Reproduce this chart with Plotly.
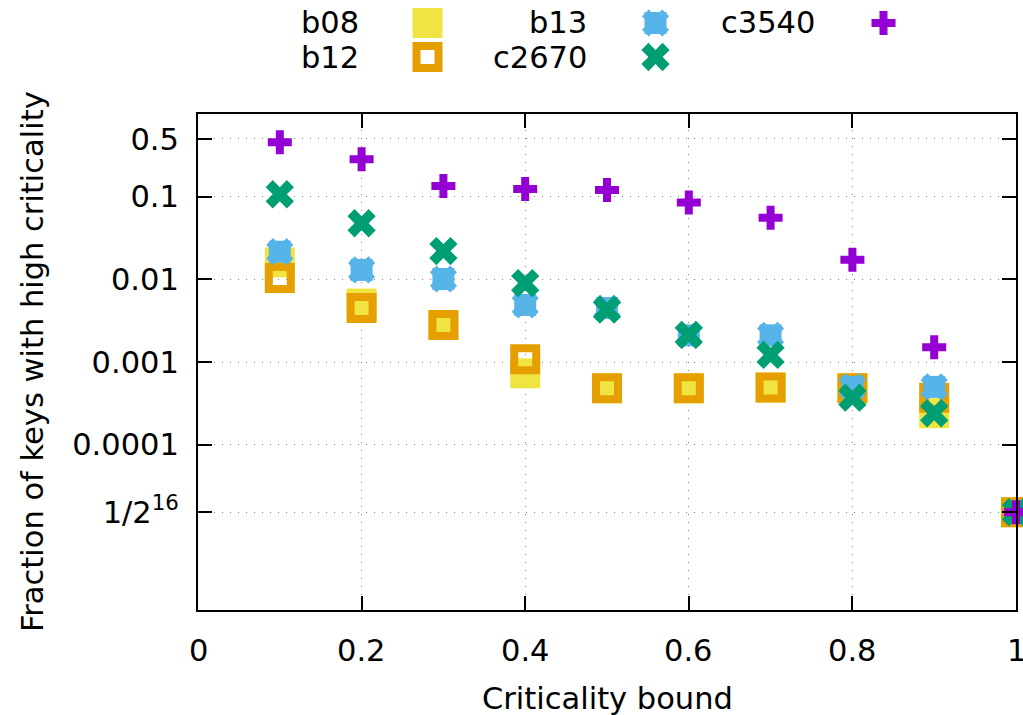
import plotly.graph_objects as go

# ---------------- data ----------------
bounds = [0.1, 0.2, 0.3, 0.4, 0.5, 0.6, 0.7, 0.8, 0.9, 1.0]
b08 = [0.016, 0.0051, 0.0028, 0.00073, 0.00048, 0.00048, 0.00049, 0.00048, 0.00024, 1.52587890625e-05]
b12 = [0.0104, 0.0045, 0.0028, 0.00108, 0.00048, 0.00048, 0.00049, 0.00048, 0.00037, 1.52587890625e-05]
b13 = [0.0216, 0.013, 0.0101, 0.0049, 0.0045, 0.0021, 0.0021, 0.0005, 0.0005, 1.52587890625e-05]
c2670 = [0.107, 0.0477, 0.022, 0.009, 0.0043, 0.00213, 0.00122, 0.00037, 0.00024, 1.52587890625e-05]
c3540 = [0.455, 0.283, 0.135, 0.124, 0.12, 0.085, 0.0557, 0.0172, 0.00151, 1.52587890625e-05]

x_tickvals = [0, 0.2, 0.4, 0.6, 0.8, 1]
x_ticktext = ["0", "0.2", "0.4", "0.6", "0.8", "1"]
y_tickvals = [0.5, 0.1, 0.01, 0.001, 0.0001, 1.52587890625e-05]
y_ticktext = ["0.5", "0.1", "0.01", "0.001", "0.0001", "1/2<sup>16</sup>"]

# ---------------- layout constants ----------------
W, H = 1023, 715
L, R, T, B = 198, 1016, 114, 610
FONT = "DejaVu Sans"
FS = 30.5
XLAB_Y = 650  # vertical centre of x tick labels (px from top)

C_B08 = "#f0e442"
C_B12 = "#e69f00"
C_B13 = "#56b4e9"
C_C2670 = "#009e73"
C_C3540 = "#9400d3"

styles = {
    "b08": [dict(symbol="square", size=30, color=C_B08, line=dict(width=0))],
    "b12": [dict(symbol="square-open", size=22, color=C_B12, line=dict(width=8, color=C_B12))],
    "b13": [dict(symbol="square", size=22, color=C_B13, line=dict(width=0)),
            dict(symbol="x", size=24, color=C_B13, line=dict(width=0))],
    "c2670": [dict(symbol="x", size=25, color=C_C2670, line=dict(width=0))],
    "c3540": [dict(symbol="cross", size=20, color=C_C3540, line=dict(width=0))],
}
series = [("b08", b08), ("b12", b12), ("b13", b13), ("c2670", c2670), ("c3540", c3540)]

fig = go.Figure()
for name, vals in series:
    for m in styles[name]:
        fig.add_trace(go.Scatter(x=bounds, y=vals, mode="markers", marker=m,
                                 name=name, showlegend=False, cliponaxis=False,
                                 xaxis="x", yaxis="y"))

# ---------------- manual key (gnuplot style: text left of sample) ----------------
key_rows = [23, 57]
key_cols_text = [361, 589, 817]
key_cols_mark = [427.5, 655.5, 883.5]
key_layout = [("b08", 0, 0), ("b12", 1, 0), ("b13", 0, 1), ("c2670", 1, 1), ("c3540", 0, 2)]
annotations = []
for name, r, c in key_layout:
    for m in styles[name]:
        fig.add_trace(go.Scatter(x=[key_cols_mark[c]], y=[key_rows[r]], mode="markers",
                                 marker=m, showlegend=False, cliponaxis=False,
                                 xaxis="x2", yaxis="y2", hoverinfo="skip"))
    annotations.append(dict(x=key_cols_text[c] / W, y=1 - key_rows[r] / H, xref="paper", yref="paper",
                            text=name, showarrow=False, xanchor="right", yanchor="middle",
                            font=dict(family=FONT, size=FS, color="black")))

# x tick labels drawn as annotations so the last one may run past the figure edge
for v, t in zip(x_tickvals, x_ticktext):
    annotations.append(dict(x=v, xref="x", y=1 - XLAB_Y / H, yref="paper", text=t,
                            showarrow=False, xanchor="center", yanchor="middle",
                            font=dict(family=FONT, size=FS, color="black")))

# axis titles
annotations.append(dict(x=(L + R) / 2 / W, y=1 - 698 / H, xref="paper", yref="paper",
                        text="Criticality bound", showarrow=False, xanchor="center", yanchor="middle",
                        font=dict(family=FONT, size=FS, color="black")))
annotations.append(dict(x=32 / W, y=1 - (T + B) / 2 / H, xref="paper", yref="paper",
                        text="Fraction of keys with high criticality", textangle=-90, showarrow=False,
                        xanchor="center", yanchor="middle",
                        font=dict(family=FONT, size=FS, color="black")))

axis_common = dict(showline=True, linewidth=2, linecolor="black", mirror="allticks",
                   ticks="inside", ticklen=14, tickwidth=2, tickcolor="black",
                   showgrid=True, gridcolor="#808080", gridwidth=1, griddash="1px,7px",
                   zeroline=False,
                   tickfont=dict(family=FONT, size=FS, color="black"))

fig.update_layout(
    width=W, height=H,
    margin=dict(l=0, r=0, t=0, b=0),
    paper_bgcolor="white", plot_bgcolor="rgba(0,0,0,0)",
    showlegend=False,
    xaxis=dict(domain=[L / W, R / W], range=[0, 1], tickmode="array",
               tickvals=x_tickvals, showticklabels=False, anchor="y", **axis_common),
    yaxis=dict(domain=[1 - B / H, 1 - T / H], type="log", range=[-6, 0], tickmode="array",
               tickvals=y_tickvals, ticktext=y_ticktext, anchor="x",
               ticklabelstandoff=11, **axis_common),
    xaxis2=dict(domain=[0, 1], range=[0, W], visible=False, anchor="y2", fixedrange=True),
    yaxis2=dict(domain=[0, 1], range=[H, 0], visible=False, anchor="x2", fixedrange=True),
    annotations=annotations,
    font=dict(family=FONT, size=FS, color="black"),
)

fig.write_html("out.html")
